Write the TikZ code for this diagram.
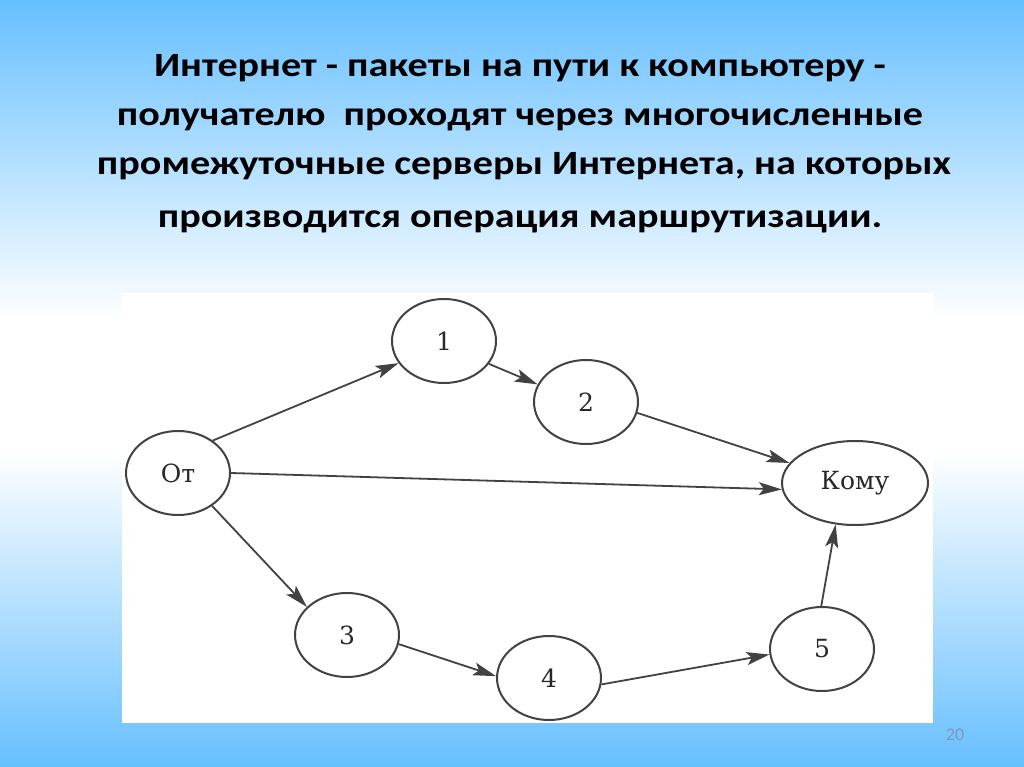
\documentclass[tikz,border=0pt]{standalone}
\usepackage{fontspec}
\setmainfont{Carlito}
\newfontfamily\nodefont{DejaVu Serif}
\usetikzlibrary{arrows.meta,shapes.geometric}
\definecolor{sky}{RGB}{102,191,255}
\definecolor{edgecol}{RGB}{66,66,66}
\definecolor{pagenum}{RGB}{125,154,187}
\newcommand{\wide}[1]{\scalebox{1.18}[1]{#1}}
\begin{document}
\begin{tikzpicture}[x=1pt,y=-1pt,
  titleline/.style={anchor=base,inner sep=0pt,font=\fontsize{34}{40}\selectfont\bfseries,text=black},
  place/.style={ellipse,draw=edgecol,line width=2pt,minimum width=104pt,minimum height=84pt,inner sep=0pt,
     font=\nodefont\fontsize{25}{28}\selectfont,text={rgb,255:red,40;green,40;blue,40}},
  link/.style={draw=edgecol,line width=1.8pt,-{Stealth[length=23pt,width=13pt,inset=5pt]}}]
\useasboundingbox (0,0) rectangle (1024,767);
% background gradient
\shade[top color=sky,bottom color=white] (0,0) rectangle (1024,320);
\fill[white] (0,319) rectangle (1024,451);
\shade[top color=white,bottom color=sky] (0,450) rectangle (1024,767);
% title
\node[titleline] (t1) at (520,77) {\wide{Интернет - пакеты на пути к компьютеру -}};
\node[titleline] (t2) at (520,126) {\wide{получателю\ \ проходят через многочисленные}};
\node[titleline] (t3) at (524,175) {\wide{промежуточные серверы Интернета, на которых}};
\node[titleline] (t4) at (520,227) {\wide{производится операция маршрутизации.}};
% diagram panel
\fill[white] (122,293) rectangle (933,723);
% nodes
\node[place] (ot) at (178,473) {От};
\node[place] (n1) at (444,341) {1};
\node[place] (n2) at (586,402) {2};
\node[place] (n3) at (347,635) {3};
\node[place] (n4) at (549,678) {4};
\node[place] (n5) at (822,649) {5};
\node[place,minimum width=146pt] (komu) at (855,483) {Кому};
% connectors
\draw[link] (ot.43) -- (n1.206);
\draw[link] (n1.333) -- (n2.160);
\draw[link] (n2.348) -- (komu.163);
\draw[link] (ot.0) -- (komu.185);
\draw[link] (ot.316) -- (n3.145);
\draw[link] (n3.350) -- (n4.178);
\draw[link] (n4.353) -- (n5.186);
\draw[link] (n5.91) -- (komu.245);
% page number
\node[anchor=base,inner sep=0pt,text=pagenum,font=\fontsize{18}{20}\selectfont] (pg) at (955,740) {20};
\end{tikzpicture}
\end{document}
